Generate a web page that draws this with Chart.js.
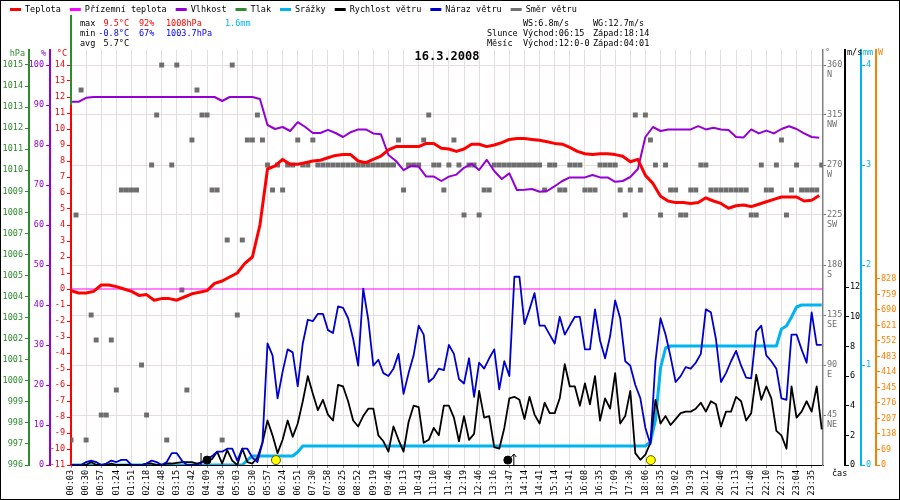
<!DOCTYPE html>
<html>
<head>
<meta charset="utf-8">
<script src="https://cdn.jsdelivr.net/npm/chart.js@4/dist/chart.umd.min.js"></script>
<style>
html, body { margin: 0; padding: 0; background: #fff; }
#wrap { width: 900px; height: 500px; }
</style>
</head>
<body>
<div id="wrap"><canvas id="meteo" width="900" height="500"></canvas></div>
<script>
// time axis labels (one per grid column)
var timeLabels = ['00:03','00:30','00:57','01:24','01:51','02:18','02:48','03:15','03:42','04:09',
    '04:36','05:03','05:30','05:57','06:24','06:51','07:30','07:58','08:25','08:52',
    '09:19','09:46','10:13','10:43','11:10','11:46','12:19','12:46','13:16','13:47',
    '14:14','14:41','15:14','15:41','16:08','16:35','17:09','17:36','18:06','18:35',
    '19:02','19:39','20:12','20:40','21:13','21:40','22:10','22:37','23:04','23:35'];

// temperature °C and humidity %, two samples per column
var temperature = [-0.1,-0.25,-0.25,-0.15,0.25,0.25,0.15,0.0,-0.15,-0.4,
    -0.35,-0.7,-0.6,-0.6,-0.7,-0.5,-0.3,-0.2,-0.1,0.35,
    0.5,0.75,1.0,1.6,2.0,4.0,7.5,7.7,8.1,7.8,
    7.8,7.9,8.0,8.05,8.2,8.35,8.4,8.4,8.0,7.9,
    8.1,8.3,8.7,8.9,8.9,8.9,8.9,9.1,9.1,8.8,
    8.75,8.6,8.75,9.05,9.05,8.9,9.0,9.15,9.35,9.4,
    9.4,9.35,9.3,9.2,9.1,9.05,8.85,8.6,8.45,8.4,
    8.45,8.45,8.4,8.3,7.95,8.1,7.1,6.6,5.8,5.5,
    5.4,5.4,5.35,5.4,5.7,5.5,5.35,5.05,5.2,5.25,
    5.15,5.3,5.45,5.6,5.75,5.75,5.75,5.5,5.55,5.85];
var humidity = [90.8,90.8,91.8,92,92,92,92,92,92,92,
    92,92,92,92,92,92,92,92,92,92,
    91,92,92,92,92,91.5,85,84,84.5,83.5,
    85.7,84.5,83,83,83.8,83,82,83.2,83.9,83.9,
    82.9,82.7,77.5,76,73.7,74.8,74.6,72.1,72.1,71,
    72.1,72.6,74.3,75.3,73.75,76.3,73.5,71.5,72.9,68.75,
    68.8,69,68.3,68.5,69.7,71,71.9,71.9,71.9,72.5,
    71.9,71.9,70.8,71,72,74,82,84.5,83.5,83.9,
    83.9,83.9,83.9,84.7,83.9,84.3,83.9,83.75,82,81.9,
    83.9,82.9,83.6,82.9,84,84.7,84,82.9,82,81.8];

// wind, rain and direction, three samples per column
var windGust = [0,0,0,0.2,0.3,0.2,0,0.1,0.3,0.2,
    0.35,0.35,0,0,0,0.1,0.3,0.2,0,0.2,
    0.8,0.8,0.3,0,0,0,0.2,0.4,0.6,0.9,
    0.9,1.1,1.1,0.3,1.1,1.1,0.5,0.2,1.5,8.2,
    7.4,4.5,6.3,7.8,7.6,5.3,8.2,9.8,9.7,10.2,
    10.2,9.1,8.9,10.7,10.6,9.9,8.5,6.7,11.9,9.8,
    6.7,7.1,6.2,6.0,6.5,7.5,4.8,6.2,7.4,9.4,
    8.8,5.6,5.9,6.5,6.4,8.1,7.5,5.8,5.5,7.2,
    4.6,6.9,6.5,7.2,7.8,5.1,7.0,6.0,12.7,12.7,
    9.5,10.5,11.6,9.4,9.4,8.8,8.2,10.0,8.8,9.4,
    10.0,10.0,7.8,7.8,10.5,8.4,7.2,8.7,11.1,9.9,
    7.0,6.7,5.4,4.5,2.5,1.4,7.0,9.9,8.8,7.3,
    5.6,6.0,6.6,6.5,6.9,7.5,10.5,10.3,8.5,5.6,
    6.2,7.0,7.7,6.7,5.9,5.85,9.0,9.4,7.4,7.0,
    6.5,4.5,4.4,8.8,8.8,7.8,6.9,10.3,8.1,8.1];
var windSpeed = [0,0,0,0,0.2,0,0,0,0.1,0,
    0,0,0,0,0,0.1,0.1,0,0,0.1,
    0.1,0.15,0.2,0.2,0.2,0.1,0.2,0.35,0.4,0.9,
    0.1,1.0,0.3,0,1.1,0.2,0.1,0.5,1.5,3.0,
    2.0,0.8,1.7,3.0,1.9,2.8,4.3,6.0,4.8,3.7,
    4.4,3.4,3.0,5.4,5.3,4.3,3.0,2.6,3.3,3.8,
    3.8,2.0,1.6,0.9,2.6,1.7,0.9,2.9,4.0,3.9,
    1.5,1.7,2.5,2.0,4.0,4.0,3.2,1.6,3.3,1.7,
    2.1,5.0,3.2,3.3,1.2,1.1,2.5,4.5,4.6,4.4,
    3.1,4.6,3.4,2.8,4.2,3.5,3.5,4.5,6.8,5.3,
    5.3,4.0,5.5,4.1,6.0,3.0,4.5,3.8,6.2,2.8,
    3.3,5.0,0.8,0.35,0.7,1.5,4.4,2.8,3.3,2.7,
    3.1,3.5,3.6,3.6,3.8,4.2,3.6,4.3,4.1,2.6,
    3.6,3.6,4.6,4.3,3.0,3.5,6.1,4.4,5.3,4.5,
    2.3,2.0,1.1,5.3,3.2,3.6,4.3,3.6,5.3,2.4];
var rainTotal = [0,0,0,0,0,0,0,0,0,0,
    0,0,0,0,0,0,0,0,0,0,
    0,0,0,0,0,0,0,0,0,0,
    0,0,0,0,0,0.05,0.09,0.09,0.09,0.09,
    0.09,0.09,0.09,0.09,0.09,0.13,0.19,0.19,0.19,0.19,
    0.19,0.19,0.19,0.19,0.19,0.19,0.19,0.19,0.19,0.19,
    0.19,0.19,0.19,0.19,0.19,0.19,0.19,0.19,0.19,0.19,
    0.19,0.19,0.19,0.19,0.19,0.19,0.19,0.19,0.19,0.19,
    0.19,0.19,0.19,0.19,0.19,0.19,0.19,0.19,0.19,0.19,
    0.19,0.19,0.19,0.19,0.19,0.19,0.19,0.19,0.19,0.19,
    0.19,0.19,0.19,0.19,0.19,0.19,0.19,0.19,0.19,0.19,
    0.19,0.19,0.19,0.19,0.19,0.23,0.45,0.97,1.17,1.19,
    1.19,1.19,1.19,1.19,1.19,1.19,1.19,1.19,1.19,1.19,
    1.19,1.19,1.19,1.19,1.19,1.19,1.19,1.19,1.19,1.19,
    1.19,1.36,1.39,1.48,1.58,1.6,1.6,1.6,1.6,1.6];
var windDir = [22.5,225,337.5,22.5,135,112.5,45,45,112.5,67.5,
    247.5,247.5,247.5,247.5,90,45,270,315,360,22.5,
    270,360,157.5,67.5,292.5,337.5,315,315,247.5,247.5,
    22.5,202.5,360,135,202.5,292.5,292.5,315,292.5,270,
    247.5,270,247.5,270,270,292.5,270,270,292.5,270,
    270,270,270,270,270,270,270,270,270,270,
    270,270,270,270,270,292.5,247.5,270,270,270,
    292.5,315,270,270,247.5,270,292.5,270,225,270,
    270,225,247.5,247.5,270,270,270,270,270,270,
    270,270,270,270,247.5,270,270,247.5,247.5,270,
    270,270,247.5,247.5,247.5,270,270,270,270,247.5,
    225,247.5,315,247.5,315,292.5,270,225,270,247.5,
    247.5,225,225,247.5,247.5,270,270,247.5,247.5,247.5,
    247.5,247.5,247.5,247.5,247.5,225,225,270,247.5,247.5,
    270,292.5,225,247.5,270,247.5,247.5,247.5,247.5,270];
var groundTemp = [0, 0];

// sun and moon events, in grid columns
var sunEvents = [13.56, 38.36];
var moonEvents = [9.0, 28.9];

// axis ticks
var hpaTicks = [996,997,998,999,1000,1001,1002,1003,1004,1005,1006,1007,1008,1009,1010,1011,1012,1013,1014,1015];
var humTicks = [0,10,20,30,40,50,60,70,80,90,100];
var tempTicks = [-11,-10,-9,-8,-7,-6,-5,-4,-3,-2,-1,0,1,2,3,4,5,6,7,8,9,10,11,12,13,14];
var dirTicks = [45,90,135,180,225,270,315,360];
var dirNames = ['NE','E','SE','S','SW','W','NW','N'];
var speedTicks = [0,2,4,6,8,10,12];
var rainTicks = [0,1,2,3,4];
var solarTicks = [0,69,138,207,276,345,414,483,552,621,690,759,828];

// header texts
var legendLabels = ['Teplota','Přízemní teplota','Vlhkost','Tlak','Srážky','Rychlost větru','Náraz větru','Směr větru'];
var legendColors = ['#ff0000','#ff00ff','#9400d3','#2e8b2e','#00b4f0','#000000','#0000cc','#707070'];
var statMax = ['max','9.5°C','92%','1008hPa','1.6mm'];
var statMin = ['min','-0.8°C','67%','1003.7hPa'];
var statAvg = ['avg','5.7°C'];
var infoRows = [['','WS:6.8m/s','WG:12.7m/s'],
    ['Slunce','Východ:06:15','Západ:18:14'],
    ['Měsíc','Východ:12:0-0','Západ:04:01']];
var chartTitle = '16.3.2008';

var MONO = '"DejaVu Sans Mono", "Liberation Mono", monospace';
var TXT = '8.5px ' + MONO;
var GRID = '#e4dede';
var TEMP_STEP = 0.5, WIND_STEP = 1 / 3, X_MAX = 49.75;

function series(arr, step) {
    return arr.map(function (v, i) { return {x: i * step, y: v}; });
}
function fixWidth(w) {
    return function (s) { s.width = w; };
}
function useTicks(vals) {
    return function (s) { s.ticks = vals.map(function (v) { return {value: v}; }); };
}
function sideAxis(pos, weight, w, min, max, vals, color, extra) {
    var ax = {
        position: pos,
        weight: weight,
        min: min,
        max: max,
        afterFit: fixWidth(w),
        afterBuildTicks: useTicks(vals),
        ticks: {color: color, padding: pos === 'left' ? 2 : 1, font: {size: 8.5},
            callback: function (v) { return String(v); }},
        grid: {drawOnChartArea: false, tickLength: 4, color: color},
        border: {color: color, width: 2}
    };
    return Object.assign(ax, extra || {});
}

Chart.defaults.font.family = MONO;
Chart.defaults.font.size = 8.5;

var meteoDecor = {
    id: 'meteoDecor',
    afterDraw: function (chart) {
        var ctx = chart.ctx, a = chart.chartArea, s = chart.scales;
        ctx.save();
        ctx.font = TXT;
        ctx.textBaseline = 'middle';

        // green marker at left edge
        ctx.strokeStyle = '#2e8b2e';
        ctx.lineWidth = 2;
        ctx.beginPath(); ctx.moveTo(a.left, 15); ctx.lineTo(a.left, 105); ctx.stroke();

        // legend row
        var lx = 10;
        legendLabels.forEach(function (lab, i) {
            ctx.strokeStyle = legendColors[i];
            ctx.lineWidth = 3;
            ctx.beginPath(); ctx.moveTo(lx, 9.5); ctx.lineTo(lx + 11, 9.5); ctx.stroke();
            ctx.fillStyle = '#000';
            ctx.textAlign = 'left';
            ctx.fillText(lab, lx + 15, 10);
            lx += 15 + ctx.measureText(lab).width + 9;
        });

        // max / min / avg block
        var cols = [80, 129, 139, 166, 225];
        var rows = [[statMax, ['#000','#ff0000','#ff0000','#ff0000','#00b4f0']],
            [statMin, ['#000','#0000ee','#0000ee','#0000ee']],
            [statAvg, ['#000','#000']]];
        rows.forEach(function (r, ri) {
            r[0].forEach(function (t, ci) {
                ctx.fillStyle = r[1][ci];
                ctx.textAlign = ci === 1 ? 'right' : 'left';
                ctx.fillText(t, cols[ci], 24 + ri * 10);
            });
        });

        // wind / sun / moon block
        var icols = [487, 523, 593];
        ctx.fillStyle = '#000';
        ctx.textAlign = 'left';
        infoRows.forEach(function (r, ri) {
            r.forEach(function (t, ci) { ctx.fillText(t, icols[ci], 24 + ri * 10); });
        });

        // title
        ctx.font = 'bold 12px ' + MONO;
        ctx.textAlign = 'center';
        ctx.fillText(chartTitle, (a.left + a.right) / 2, a.top + 7);
        ctx.font = TXT;

        // axis unit captions
        var uy = a.top + 4;
        [['hpaY', 'hPa', '#2e8b2e'], ['humY', '%', '#9400d3'], ['tempY', '°C', '#ff0000']].forEach(function (u) {
            ctx.fillStyle = u[2]; ctx.textAlign = 'right';
            ctx.fillText(u[1], s[u[0]].right - 4, uy);
        });
        [['dirY', '°', '#707070'], ['speedY', 'm/s', '#000'], ['rainY', 'mm', '#00b4f0'], ['solarY', 'W', '#ff8000']].forEach(function (u) {
            ctx.fillStyle = u[2]; ctx.textAlign = 'left';
            ctx.fillText(u[1], s[u[0]].left + 2, uy - 1);
        });
        ctx.fillStyle = '#000';
        ctx.fillText('čas', a.right + 9, a.bottom + 9);

        // moon set / rise marks
        ctx.strokeStyle = '#000';
        ctx.lineWidth = 1;
        var mx1 = s.x.getPixelForValue(moonEvents[0]) - 6;
        ctx.beginPath(); ctx.moveTo(mx1, a.bottom - 12); ctx.lineTo(mx1, a.bottom); ctx.stroke();
        var mx2 = s.x.getPixelForValue(moonEvents[1]) + 6;
        ctx.beginPath();
        ctx.moveTo(mx2, a.bottom); ctx.lineTo(mx2, a.bottom - 11);
        ctx.moveTo(mx2 - 2.5, a.bottom - 8); ctx.lineTo(mx2, a.bottom - 11); ctx.lineTo(mx2 + 2.5, a.bottom - 8);
        ctx.stroke();

        // outer frame
        ctx.strokeStyle = '#000';
        ctx.strokeRect(0.5, 0.5, chart.width - 1, chart.height - 1);
        ctx.restore();
    }
};

var meteoChart = new Chart(document.getElementById('meteo'), {
    type: 'line',
    data: {
        datasets: [{
            label: 'Slunce',
            data: sunEvents.map(function (x) { return {x: x, y: 0.33}; }),
            yAxisID: 'speedY', showLine: false,
            pointRadius: 4.5, pointBackgroundColor: '#ffff00', pointBorderColor: '#5a5a00', pointBorderWidth: 1
        }, {
            label: 'Měsíc',
            data: moonEvents.map(function (x) { return {x: x, y: 0.33}; }),
            yAxisID: 'speedY', showLine: false,
            pointRadius: 4, pointBackgroundColor: '#000', pointBorderColor: '#000', pointBorderWidth: 1
        }, {
            label: 'Teplota',
            data: series(temperature, TEMP_STEP),
            yAxisID: 'tempY', borderColor: '#ff0000', borderWidth: 3
        }, {
            label: 'Vlhkost',
            data: series(humidity, TEMP_STEP),
            yAxisID: 'humY', borderColor: '#9400d3', borderWidth: 2
        }, {
            label: 'Náraz větru',
            data: series(windGust, WIND_STEP),
            yAxisID: 'speedY', borderColor: '#0000cc', borderWidth: 1.8
        }, {
            label: 'Rychlost větru',
            data: series(windSpeed, WIND_STEP),
            yAxisID: 'speedY', borderColor: '#000000', borderWidth: 1.8
        }, {
            label: 'Srážky',
            data: series(rainTotal, WIND_STEP),
            yAxisID: 'rainY', borderColor: '#00b4f0', borderWidth: 3
        }, {
            label: 'Přízemní teplota',
            data: groundTemp.map(function (v, i) { return {x: i * X_MAX, y: v}; }),
            yAxisID: 'tempY', borderColor: '#ff00ff', borderWidth: 1
        }, {
            label: 'Směr větru',
            data: series(windDir, WIND_STEP),
            yAxisID: 'dirY', showLine: false,
            pointStyle: 'rect', pointRadius: 3.5, pointBackgroundColor: '#6e6e6e', pointBorderWidth: 0
        }]
    },
    options: {
        responsive: false,
        animation: false,
        events: [],
        layout: {padding: {top: 50, left: 0, right: 0, bottom: 0}},
        elements: {
            point: {radius: 0},
            line: {tension: 0, borderJoinStyle: 'round', fill: false}
        },
        plugins: {
            legend: {display: false},
            tooltip: {enabled: false}
        },
        scales: {
            x: {
                type: 'linear', position: 'bottom', min: 0, max: X_MAX,
                afterBuildTicks: useTicks(timeLabels.map(function (t, i) { return i; })),
                afterFit: function (s) { s.height = 35; },
                ticks: {autoSkip: false, minRotation: 90, maxRotation: 90, padding: 2, color: '#000',
                    font: {size: 8.5}, callback: function (v) { return timeLabels[v]; }},
                grid: {color: GRID, tickLength: 3, tickColor: '#888'},
                border: {color: '#000', width: 1}
            },
            tempY: sideAxis('left', 0, 21, -11, 14.9375, tempTicks, '#ff0000'),
            humY: sideAxis('left', 1, 21, 0, 103.75, humTicks, '#9400d3'),
            hpaY: sideAxis('left', 2, 29, 996, 1015.7125, hpaTicks, '#2e8b2e'),
            dirY: sideAxis('right', 0, 22, 0, 373.5, dirTicks, '#707070', {
                ticks: {color: '#707070', padding: 1, font: {size: 8.5},
                    callback: function (v) { return ['', String(v), dirNames[dirTicks.indexOf(v)]]; }},
                grid: {drawOnChartArea: true, color: GRID, tickLength: 3, tickColor: '#707070'},
                border: {color: '#808080', width: 1.5}
            }),
            speedY: sideAxis('right', 1, 16, 0, 28, speedTicks, '#000000'),
            rainY: sideAxis('right', 2, 15, 0, 4.15, rainTicks, '#00b4f0'),
            solarY: sideAxis('right', 3, 24, 0, 1847, solarTicks, '#ff8000')
        }
    },
    plugins: [meteoDecor]
});
</script>
</body>
</html>
